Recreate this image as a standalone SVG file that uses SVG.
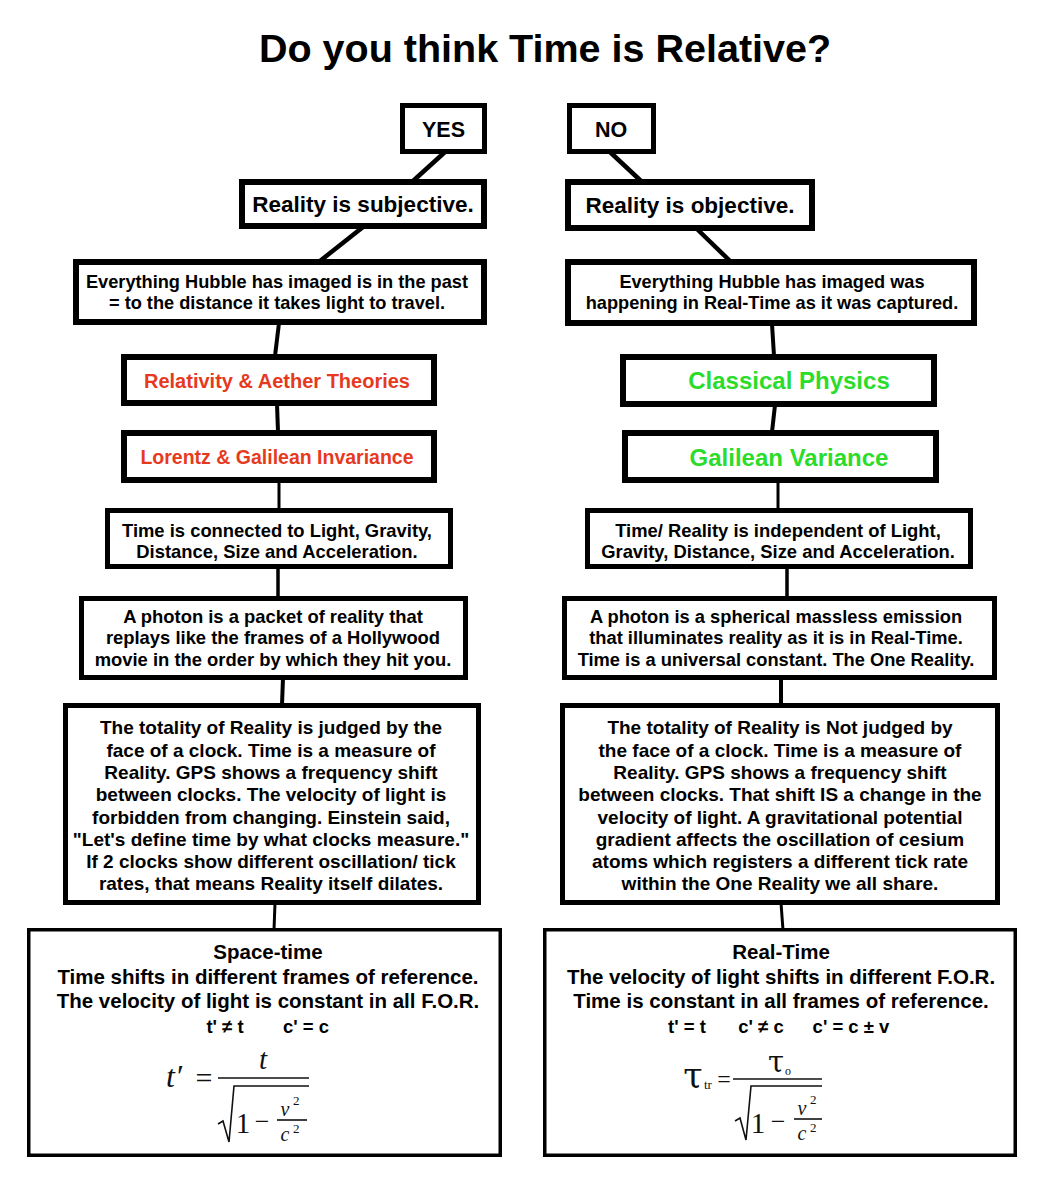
<svg xmlns="http://www.w3.org/2000/svg" width="1044" height="1200" viewBox="0 0 1044 1200">
<style>
.bg{fill:#fff}
.box{fill:#fff;stroke:#000;stroke-linejoin:miter}
.s6{stroke-width:6}
.s5{stroke-width:5}
.s35{stroke-width:3.5}
.t{font-family:"Liberation Sans",Arial,Helvetica,sans-serif;font-weight:bold;text-anchor:middle;fill:#000}
.red{fill:#e63a1f}
.green{fill:#2bdc2b}
.conn line{stroke:#000;stroke-linecap:butt}
.m{font-family:"Liberation Serif","Times New Roman",serif;fill:#111}
.mi{font-style:italic}
.g{font-family:"DejaVu Serif",serif;fill:#111}
.ml{stroke:#111;fill:none;stroke-width:1.6}
</style>
<rect class="bg" x="0" y="0" width="1044" height="1200"/>
<text id="title" class="t" x="545" y="62" font-size="39.5">Do you think Time is Relative?</text>

<g id="connectors" class="conn">
<line x1="445" y1="152" x2="413" y2="181" stroke-width="4.5"/>
<line x1="610" y1="152" x2="641" y2="181" stroke-width="4.5"/>
<line x1="363" y1="227" x2="320" y2="261" stroke-width="4.5"/>
<line x1="697" y1="229" x2="730" y2="261" stroke-width="4.5"/>
<line x1="279" y1="323" x2="275" y2="356" stroke-width="4"/>
<line x1="772" y1="324" x2="774" y2="356" stroke-width="4"/>
<line x1="277" y1="404" x2="278" y2="432" stroke-width="4"/>
<line x1="775" y1="405" x2="772" y2="432" stroke-width="4"/>
<line x1="279" y1="481" x2="279" y2="510" stroke-width="3"/>
<line x1="778" y1="481" x2="778" y2="510" stroke-width="3"/>
<line x1="278" y1="567" x2="278" y2="598" stroke-width="3.5"/>
<line x1="787" y1="567" x2="787" y2="598" stroke-width="3.5"/>
<line x1="283" y1="678" x2="282" y2="705" stroke-width="4"/>
<line x1="781" y1="678" x2="781" y2="705" stroke-width="4"/>
<line x1="275" y1="903" x2="274" y2="930" stroke-width="3"/>
<line x1="781" y1="903" x2="783" y2="930" stroke-width="3"/>
</g>

<g id="yes">
<rect class="box s5" x="402.5" y="105.5" width="82" height="46"/>
<text class="t" x="443.5" y="136.5" font-size="21.5">YES</text>
</g>
<g id="no">
<rect class="box s5" x="569.5" y="105.5" width="84" height="46"/>
<text class="t" x="611" y="136.5" font-size="21.5">NO</text>
</g>

<g id="subjective">
<rect class="box s6" x="242" y="182" width="242" height="44"/>
<text class="t" x="363" y="212" font-size="22.5">Reality is subjective.</text>
</g>
<g id="objective">
<rect class="box s6" x="568" y="182" width="244" height="46"/>
<text class="t" x="690" y="213" font-size="22.5">Reality is objective.</text>
</g>

<g id="hubble-left">
<rect class="box s6" x="76" y="262" width="408" height="60"/>
<text class="t" x="277" y="287.5" font-size="18.2">Everything Hubble has imaged is in the past</text>
<text class="t" x="277" y="308.5" font-size="18.2">= to the distance it takes light to travel.</text>
</g>
<g id="hubble-right">
<rect class="box s6" x="568" y="262" width="406" height="61"/>
<text class="t" x="772" y="288" font-size="18.2">Everything Hubble has imaged was</text>
<text class="t" x="772" y="309" font-size="18.2">happening in Real-Time as it was captured.</text>
</g>

<g id="relativity">
<rect class="box s6" x="124" y="357" width="310" height="46"/>
<text class="t red" x="277" y="388" font-size="20">Relativity &amp; Aether Theories</text>
</g>
<g id="classical">
<rect class="box s6" x="623" y="357" width="311" height="47"/>
<text class="t green" x="789" y="388.5" font-size="24">Classical Physics</text>
</g>

<g id="lorentz">
<rect class="box s6" x="124" y="433" width="310" height="47"/>
<text class="t red" x="277" y="464" font-size="19.5">Lorentz &amp; Galilean Invariance</text>
</g>
<g id="galilean">
<rect class="box s6" x="625" y="433" width="311" height="47"/>
<text class="t green" x="789" y="465.5" font-size="24">Galilean Variance</text>
</g>

<g id="time-left">
<rect class="box s5" x="107.5" y="510.5" width="343" height="56"/>
<text class="t" x="277" y="536.5" font-size="18.4">Time is connected to Light, Gravity,</text>
<text class="t" x="277" y="557.5" font-size="18.4">Distance, Size and Acceleration.</text>
</g>
<g id="time-right">
<rect class="box s5" x="587.5" y="510.5" width="383" height="56"/>
<text class="t" x="778" y="536.5" font-size="18.4">Time/ Reality is independent of Light,</text>
<text class="t" x="778" y="557.5" font-size="18.4">Gravity, Distance, Size and Acceleration.</text>
</g>

<g id="photon-left">
<rect class="box s5" x="81.5" y="598.5" width="384" height="79"/>
<text class="t" x="273" y="622.5" font-size="18.4">A photon is a packet of reality that</text>
<text class="t" x="273" y="644" font-size="18.4">replays like the frames of a Hollywood</text>
<text class="t" x="273" y="665.5" font-size="18.4">movie in the order by which they hit you.</text>
</g>
<g id="photon-right">
<rect class="box s5" x="564.5" y="598.5" width="430" height="79"/>
<text class="t" x="776" y="622.5" font-size="18.3">A photon is a spherical massless emission</text>
<text class="t" x="776" y="644" font-size="18.3">that illuminates reality as it is in Real-Time.</text>
<text class="t" x="776" y="665.5" font-size="18.3">Time is a universal constant. The One Reality.</text>
</g>

<g id="clock-left">
<rect class="box s5" x="65.5" y="705.5" width="413" height="197"/>
<text class="t" x="271" y="734" font-size="19">The totality of Reality is judged by the</text>
<text class="t" x="271" y="756.5" font-size="19">face of a clock. Time is a measure of</text>
<text class="t" x="271" y="779" font-size="19">Reality. GPS shows a frequency shift</text>
<text class="t" x="271" y="801" font-size="19">between clocks. The velocity of light is</text>
<text class="t" x="271" y="823.5" font-size="19">forbidden from changing. Einstein said,</text>
<text class="t" x="271" y="846" font-size="19">"Let's define time by what clocks measure."</text>
<text class="t" x="271" y="868" font-size="19">If 2 clocks show different oscillation/ tick</text>
<text class="t" x="271" y="890" font-size="19">rates, that means Reality itself dilates.</text>
</g>
<g id="clock-right">
<rect class="box s5" x="562.5" y="705.5" width="435" height="197"/>
<text class="t" x="780" y="734" font-size="19">The totality of Reality is Not judged by</text>
<text class="t" x="780" y="756.5" font-size="19">the face of a clock. Time is a measure of</text>
<text class="t" x="780" y="779" font-size="19">Reality. GPS shows a frequency shift</text>
<text class="t" x="780" y="801" font-size="19">between clocks. That shift IS a change in the</text>
<text class="t" x="780" y="823.5" font-size="19">velocity of light. A gravitational potential</text>
<text class="t" x="780" y="846" font-size="19">gradient affects the oscillation of cesium</text>
<text class="t" x="780" y="868" font-size="19">atoms which registers a different tick rate</text>
<text class="t" x="780" y="890" font-size="19">within the One Reality we all share.</text>
</g>

<g id="spacetime">
<rect class="box s35" x="28.75" y="929.75" width="471.5" height="225.5"/>
<text class="t" x="268" y="959" font-size="20.5">Space-time</text>
<text class="t" x="268" y="984" font-size="20.5">Time shifts in different frames of reference.</text>
<text class="t" x="268" y="1008" font-size="20.5">The velocity of light is constant in all F.O.R.</text>
<text class="t" x="225" y="1033" font-size="18.5">t' ≠ t</text>
<text class="t" x="306" y="1033" font-size="18.5">c' = c</text>
<text class="m mi" x="166" y="1087" font-size="32">t′</text>
<text class="m" x="204" y="1088" font-size="30" text-anchor="middle">=</text>
<text class="m mi" x="263" y="1069" font-size="29" text-anchor="middle">t</text>
<line class="ml" x1="218" y1="1078" x2="309" y2="1078"/>
<path class="ml" d="M218,1124 L223,1121 L229,1142 L234,1086 L309,1086"/>
<text class="m" x="243" y="1133" font-size="29" text-anchor="middle">1</text>
<text class="m" x="262" y="1130" font-size="26" text-anchor="middle">−</text>
<text class="m mi" x="285" y="1116" font-size="20" text-anchor="middle">v</text>
<text class="m" x="293" y="1105" font-size="13">2</text>
<line class="ml" x1="277" y1="1120" x2="307" y2="1120" stroke-width="1.3"/>
<text class="m mi" x="285" y="1141" font-size="20" text-anchor="middle">c</text>
<text class="m" x="293" y="1133" font-size="13">2</text>
</g>

<g id="realtime">
<rect class="box s35" x="544.75" y="929.75" width="470.5" height="225.5"/>
<text class="t" x="781" y="959" font-size="20.5">Real-Time</text>
<text class="t" x="781" y="984" font-size="20.5">The velocity of light shifts in different F.O.R.</text>
<text class="t" x="781" y="1008" font-size="20.5">Time is constant in all frames of reference.</text>
<text class="t" x="687" y="1033" font-size="18.5">t' = t</text>
<text class="t" x="761" y="1033" font-size="18.5">c' ≠ c</text>
<text class="t" x="851" y="1033" font-size="18.5">c' = c ± v</text>
<text class="g" x="693" y="1088" font-size="35" text-anchor="middle">τ</text>
<text class="m" x="704" y="1089" font-size="13">tr</text>
<text class="m" x="724" y="1087" font-size="24" text-anchor="middle">=</text>
<text class="g" x="776" y="1072" font-size="29" text-anchor="middle">τ</text>
<text class="m" x="785" y="1075" font-size="12">o</text>
<line class="ml" x1="733" y1="1079" x2="822" y2="1079"/>
<path class="ml" d="M735,1121 L740,1118 L746,1140 L751,1086 L822,1086"/>
<text class="m" x="758" y="1133" font-size="29" text-anchor="middle">1</text>
<text class="m" x="778" y="1130" font-size="26" text-anchor="middle">−</text>
<text class="m mi" x="802" y="1115" font-size="20" text-anchor="middle">v</text>
<text class="m" x="810" y="1104" font-size="13">2</text>
<line class="ml" x1="794" y1="1119" x2="822" y2="1119" stroke-width="1.3"/>
<text class="m mi" x="802" y="1140" font-size="20" text-anchor="middle">c</text>
<text class="m" x="810" y="1132" font-size="13">2</text>
</g>
</svg>
